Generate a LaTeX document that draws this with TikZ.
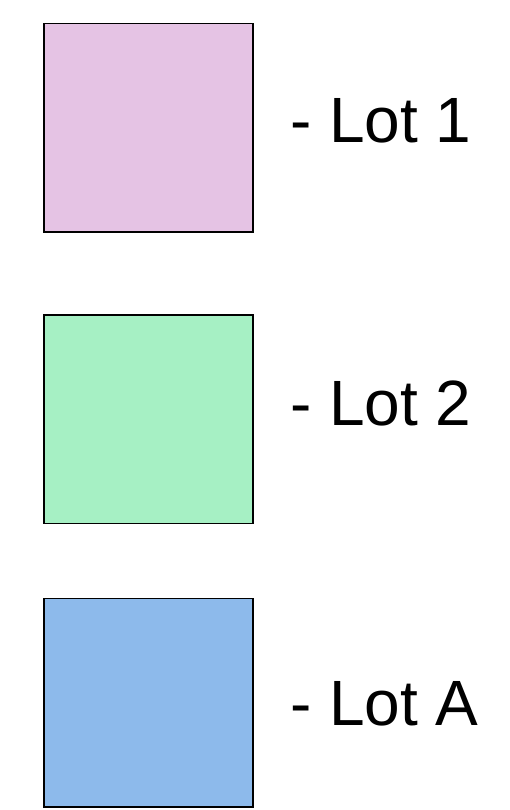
\documentclass[tikz,border=0pt]{standalone}
\usepackage{fontspec}
\setmainfont{Liberation Sans}
\definecolor{lotpink}{HTML}{E5C3E4}
\definecolor{lotgreen}{HTML}{A6F0C4}
\definecolor{lotblue}{HTML}{8DBAEB}
\begin{document}
\begin{tikzpicture}[x=1pt,y=-1pt,
  lotbox/.style={draw=black,line width=1.6pt},
  lotlabel/.style={anchor=base west,inner sep=0pt,font=\fontsize{64}{70}\selectfont}]
\useasboundingbox (0,0) rectangle (509,810);
\fill[white] (0,0) rectangle (509,810);
\path[lotbox,fill=lotpink] (44,23.5) rectangle (253,232) coordinate (b1);
\path[lotbox,fill=lotgreen] (44,315) rectangle (253,523.5) coordinate (b2);
\path[lotbox,fill=lotblue] (44,598.5) rectangle (253,807) coordinate (b3);
\node[lotlabel] (t1) at (290,143) {- Lot 1};
\node[lotlabel] (t2) at (290,425) {- Lot 2};
\node[lotlabel] (t3) at (290,725) {- Lot A};
\end{tikzpicture}
\end{document}
